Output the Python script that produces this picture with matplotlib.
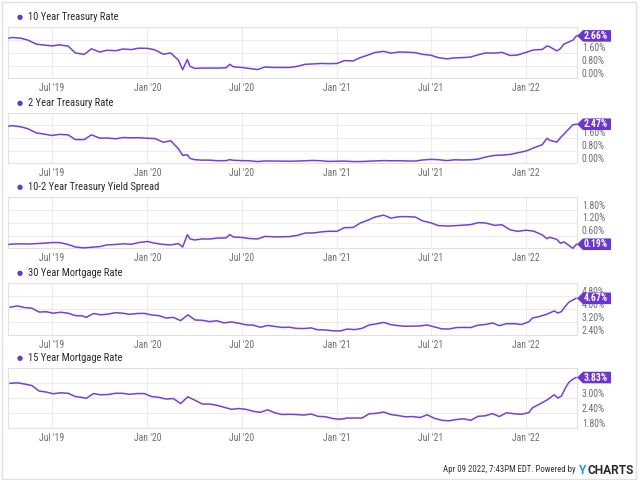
import matplotlib
matplotlib.use("Agg")
import matplotlib.pyplot as plt
import matplotlib.dates as mdates
from matplotlib import font_manager
from matplotlib.patches import Polygon, Rectangle
import datetime as dt

# ---------------- data ----------------
t_dates = ["2019-04-09", "2019-04-15", "2019-05-01", "2019-05-15", "2019-06-01", "2019-06-15",
           "2019-07-01", "2019-07-15", "2019-08-01", "2019-08-15", "2019-09-01", "2019-09-15",
           "2019-10-01", "2019-10-15", "2019-11-01", "2019-11-15", "2019-12-01", "2019-12-15",
           "2020-01-01", "2020-01-15", "2020-02-01", "2020-02-15", "2020-03-01", "2020-03-09",
           "2020-03-18", "2020-03-23", "2020-04-01", "2020-04-15", "2020-05-01", "2020-05-15",
           "2020-06-01", "2020-06-08", "2020-06-15", "2020-07-01", "2020-07-15", "2020-08-01",
           "2020-08-15", "2020-09-01", "2020-09-15", "2020-10-01", "2020-10-15", "2020-11-01",
           "2020-11-15", "2020-12-01", "2020-12-15", "2021-01-01", "2021-01-15", "2021-02-01",
           "2021-02-15", "2021-03-01", "2021-03-15", "2021-04-01", "2021-04-15", "2021-05-01",
           "2021-05-15", "2021-06-01", "2021-06-15", "2021-07-01", "2021-07-15", "2021-08-01",
           "2021-08-15", "2021-09-01", "2021-09-15", "2021-10-01", "2021-10-15", "2021-11-01",
           "2021-11-15", "2021-12-01", "2021-12-15", "2022-01-01", "2022-01-15", "2022-02-01",
           "2022-02-10", "2022-02-15", "2022-03-01", "2022-03-08", "2022-03-15", "2022-04-01",
           "2022-04-08"]

ten_year = [2.52, 2.56, 2.52, 2.40, 2.14, 2.09, 2.03, 2.10, 2.02, 1.59, 1.50, 1.85,
            1.65, 1.76, 1.73, 1.84, 1.80, 1.89, 1.88, 1.79, 1.51, 1.59, 1.13, 0.54,
            1.18, 0.76, 0.62, 0.64, 0.64, 0.64, 0.66, 0.88, 0.72, 0.68, 0.62, 0.55,
            0.71, 0.68, 0.68, 0.68, 0.74, 0.88, 0.90, 0.93, 0.92, 0.93, 1.11, 1.09,
            1.30, 1.45, 1.62, 1.69, 1.58, 1.65, 1.64, 1.61, 1.50, 1.45, 1.30, 1.22,
            1.28, 1.30, 1.33, 1.48, 1.59, 1.58, 1.63, 1.43, 1.46, 1.63, 1.78, 1.81,
            2.03, 1.98, 1.72, 1.86, 2.15, 2.39, 2.66]

two_year = [2.35, 2.38, 2.31, 2.19, 1.92, 1.85, 1.76, 1.83, 1.80, 1.50, 1.50, 1.80,
            1.59, 1.60, 1.55, 1.63, 1.61, 1.62, 1.58, 1.57, 1.33, 1.43, 0.91, 0.50,
            0.54, 0.31, 0.23, 0.20, 0.20, 0.16, 0.17, 0.23, 0.19, 0.17, 0.16, 0.11,
            0.15, 0.14, 0.14, 0.13, 0.14, 0.16, 0.18, 0.16, 0.12, 0.13, 0.14, 0.11,
            0.11, 0.13, 0.15, 0.17, 0.16, 0.16, 0.15, 0.14, 0.21, 0.25, 0.23, 0.17,
            0.22, 0.21, 0.22, 0.27, 0.40, 0.50, 0.52, 0.56, 0.66, 0.78, 0.97, 1.18,
            1.58, 1.46, 1.34, 1.62, 1.85, 2.44, 2.47]

spread = [0.18, 0.20, 0.21, 0.20, 0.22, 0.24, 0.27, 0.27, 0.18, 0.06, 0.02, 0.05,
          0.08, 0.16, 0.18, 0.21, 0.19, 0.27, 0.32, 0.24, 0.18, 0.16, 0.22, 0.06,
          0.64, 0.45, 0.39, 0.44, 0.44, 0.48, 0.49, 0.65, 0.53, 0.51, 0.46, 0.44,
          0.56, 0.54, 0.54, 0.55, 0.60, 0.72, 0.72, 0.77, 0.80, 0.80, 0.97, 0.98,
          1.19, 1.32, 1.47, 1.56, 1.42, 1.49, 1.49, 1.47, 1.29, 1.20, 1.07, 1.05,
          1.06, 1.09, 1.11, 1.21, 1.19, 1.08, 1.11, 0.87, 0.80, 0.85, 0.81, 0.63,
          0.45, 0.52, 0.42, 0.24, 0.30, 0.00, 0.19]

m_dates = ["2019-04-11", "2019-04-25", "2019-05-09", "2019-05-23", "2019-06-06", "2019-06-20",
           "2019-07-03", "2019-07-18", "2019-08-01", "2019-08-15", "2019-08-29", "2019-09-05",
           "2019-09-19", "2019-10-03", "2019-10-17", "2019-10-31", "2019-11-14", "2019-11-27",
           "2019-12-12", "2019-12-26", "2020-01-09", "2020-01-23", "2020-02-06", "2020-02-20",
           "2020-03-05", "2020-03-19", "2020-04-02", "2020-04-16", "2020-04-30", "2020-05-14",
           "2020-05-28", "2020-06-11", "2020-06-25", "2020-07-09", "2020-07-23", "2020-08-06",
           "2020-08-20", "2020-09-03", "2020-09-17", "2020-10-01", "2020-10-15", "2020-10-29",
           "2020-11-12", "2020-11-25", "2020-12-10", "2020-12-24", "2021-01-07", "2021-01-21",
           "2021-02-04", "2021-02-18", "2021-03-04", "2021-03-18", "2021-04-01", "2021-04-15",
           "2021-04-29", "2021-05-13", "2021-05-27", "2021-06-10", "2021-06-24", "2021-07-08",
           "2021-07-22", "2021-08-05", "2021-08-19", "2021-09-02", "2021-09-16", "2021-09-30",
           "2021-10-14", "2021-10-28", "2021-11-10", "2021-11-24", "2021-12-09", "2021-12-23",
           "2022-01-06", "2022-01-13", "2022-01-27", "2022-02-10", "2022-02-24", "2022-03-03",
           "2022-03-10", "2022-03-17", "2022-03-24", "2022-03-31", "2022-04-07"]

mort30 = [4.12, 4.20, 4.10, 4.06, 3.82, 3.84, 3.75, 3.81, 3.75, 3.60, 3.58, 3.49,
          3.73, 3.65, 3.69, 3.78, 3.75, 3.68, 3.73, 3.74, 3.64, 3.60, 3.45, 3.49,
          3.29, 3.65, 3.33, 3.31, 3.23, 3.28, 3.15, 3.21, 3.13, 3.03, 3.01, 2.88,
          2.99, 2.93, 2.87, 2.88, 2.81, 2.80, 2.84, 2.72, 2.71, 2.66, 2.65, 2.77,
          2.73, 2.81, 3.02, 3.09, 3.18, 3.04, 2.98, 2.94, 2.95, 2.96, 3.02, 2.90,
          2.78, 2.77, 2.86, 2.87, 2.86, 3.01, 3.05, 3.14, 2.98, 3.10, 3.10, 3.05,
          3.22, 3.45, 3.55, 3.69, 3.89, 3.76, 3.85, 4.16, 4.42, 4.55, 4.67]

mort15 = [3.60, 3.62, 3.57, 3.51, 3.29, 3.25, 3.18, 3.22, 3.20, 3.07, 3.03, 3.00,
          3.19, 3.14, 3.15, 3.20, 3.20, 3.16, 3.19, 3.19, 3.07, 3.04, 2.97, 2.99,
          2.79, 3.06, 2.92, 2.77, 2.77, 2.72, 2.64, 2.56, 2.59, 2.56, 2.48, 2.44,
          2.54, 2.42, 2.35, 2.36, 2.35, 2.33, 2.37, 2.28, 2.26, 2.19, 2.16, 2.21,
          2.21, 2.21, 2.38, 2.40, 2.45, 2.35, 2.31, 2.26, 2.27, 2.23, 2.34, 2.20,
          2.12, 2.10, 2.15, 2.18, 2.12, 2.28, 2.30, 2.39, 2.27, 2.42, 2.38, 2.36,
          2.43, 2.62, 2.77, 2.93, 3.14, 3.01, 3.09, 3.39, 3.63, 3.75, 3.83]

titles = ["10 Year Treasury Rate", "2 Year Treasury Rate", "10-2 Year Treasury Yield Spread",
          "30 Year Mortgage Rate", "15 Year Mortgage Rate"]
last_labels = ["2.66%", "2.47%", "0.19%", "4.67%", "3.83%"]
y_ticks = [[0.0, 0.8, 1.6, 2.4, 3.2],
           [0.0, 0.8, 1.6, 2.4, 3.2],
           [0.0, 0.6, 1.2, 1.8, 2.4],
           [2.4, 3.2, 4.0, 4.8, 5.6],
           [1.8, 2.4, 3.0, 3.6, 4.2]]
x_ticks = ["2019-07-01", "2020-01-01", "2020-07-01", "2021-01-01", "2021-07-01", "2022-01-01"]
x_tick_labels = ["Jul '19", "Jan '20", "Jul '20", "Jan '21", "Jul '21", "Jan '22"]
footer = "Apr 09 2022, 7:43PM EDT. Powered by"

# ---------------- style ----------------
avail = {f.name for f in font_manager.fontManager.ttflist}
def pick(names):
    for n in names:
        if n in avail:
            return n
    return "DejaVu Sans"
NARROW = pick(["Liberation Sans Narrow", "Roboto Condensed", "Roboto", "Liberation Sans"])
BOLD = pick(["Roboto", "Liberation Sans", "DejaVu Sans"])
plt.rcParams["font.family"] = [NARROW, "DejaVu Sans"]

PURPLE = "#6b36cf"
LINE = "#7241d9"
GRID = "#ececec"
BORDER = "#e2e2e2"

W, H = 640, 480
fig = plt.figure(figsize=(6.4, 4.8), dpi=100)
fig.patch.set_facecolor("white")

def fx(px):
    return px / W
def fy(py):
    return 1 - py / H

panels = [(27.3, 78.3), (112.7, 163.3), (197.3, 248.3), (283.3, 335.0), (368.3, 428.3)]
left_px, right_px = 8.0, 577.0

tds = [dt.datetime.strptime(d, "%Y-%m-%d") for d in t_dates]
mds = [dt.datetime.strptime(d, "%Y-%m-%d") for d in m_dates]
series = [(tds, ten_year), (tds, two_year), (tds, spread), (mds, mort30), (mds, mort15)]
xt = [dt.datetime.strptime(d, "%Y-%m-%d") for d in x_ticks]
xlim = (dt.datetime(2019, 4, 7), dt.datetime(2022, 4, 9))

for i, ((top, bot), (xs, ys)) in enumerate(zip(panels, series)):
    ax = fig.add_axes([fx(left_px), fy(bot), fx(right_px) - fx(left_px), (bot - top) / H])
    ax.set_facecolor("white")
    yt = y_ticks[i]
    ax.set_ylim(yt[0], yt[-1])
    ax.set_xlim(*xlim)
    ax.plot(xs, ys, color=LINE, lw=1.1, solid_joinstyle="round", zorder=3, clip_on=False)
    ax.set_yticks(yt)
    ax.set_xticks(xt)
    ax.grid(True, color=GRID, lw=0.8, zorder=0)
    ax.tick_params(length=0, labelleft=False, labelbottom=False)
    for s in ax.spines.values():
        s.set_color(BORDER)
        s.set_linewidth(0.8)
    for d, lab in zip(xt, x_tick_labels):
        xn = (mdates.date2num(d) - mdates.date2num(xlim[0])) / (mdates.date2num(xlim[1]) - mdates.date2num(xlim[0]))
        fig.text(fx(left_px) + xn * (fx(right_px) - fx(left_px)), fy(bot + 10), lab,
                 ha="center", va="center", fontsize=7, color="#6e6e6e")
    yc = bot - (ys[-1] - yt[0]) / (yt[-1] - yt[0]) * (bot - top)
    for v in yt[:-1]:
        ypx = bot - (v - yt[0]) / (yt[-1] - yt[0]) * (bot - top)
        lab_center = ypx - 5
        if abs(lab_center - yc) < 4.5:
            continue  # hidden behind the value label, as in the reference
        fig.text(fx(582), fy(ypx - 1.5), f"{v:.2f}%", ha="left", va="baseline",
                 fontsize=7, color="#6e6e6e")
    fig.text(fx(20), fy(top - 10), "\u25CF", ha="center", va="center", fontsize=5,
             color=PURPLE, family="DejaVu Sans")
    fig.text(fx(28), fy(top - 10), titles[i], ha="left", va="center", fontsize=7.6,
             color="#2b2b2b")
    tip = right_px
    verts = [(fx(tip), fy(yc)), (fx(tip + 6), fy(yc - 5.8)), (fx(611), fy(yc - 5.8)),
             (fx(611), fy(yc + 5.8)), (fx(tip + 6), fy(yc + 5.8))]
    fig.add_artist(Polygon(verts, closed=True, facecolor=PURPLE, edgecolor="none",
                           transform=fig.transFigure, zorder=10))
    fig.text(fx(596), fy(yc), last_labels[i], ha="center", va="center", fontsize=7,
             color="white", fontweight="bold", zorder=11)

# footer
fig.text(fx(576), fy(470), footer, ha="right", va="center", fontsize=6.3, color="#333333")
fig.text(fx(578), fy(470), "Y", ha="left", va="center", fontsize=8.6, color="#1d9ad6",
         fontweight="bold", family=BOLD)
fig.text(fx(587), fy(470), "CHARTS", ha="left", va="center", fontsize=8.6, color="#2a2a2a",
         fontweight="bold", family=BOLD)

fig.add_artist(Rectangle((fx(1.5), fy(478.5)), fx(635.5) - fx(1.5), fy(1.5) - fy(478.5),
                         transform=fig.transFigure, facecolor="none", edgecolor="#e0e0e0",
                         lw=1.0, zorder=0))

fig.savefig("out.png", dpi=100)
